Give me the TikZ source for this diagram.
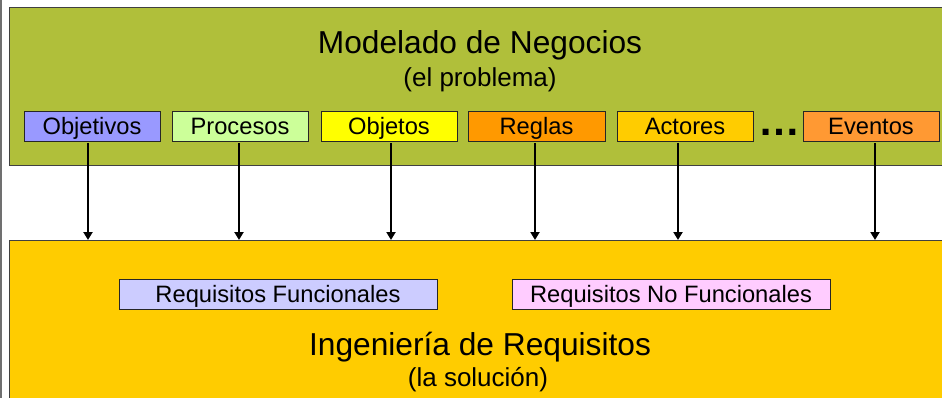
\documentclass[tikz,border=0pt]{standalone}
\usepackage{fontspec}
\setmainfont{Liberation Sans}
\usetikzlibrary{arrows.meta}
\definecolor{modgreen}{RGB}{176,191,58}
\definecolor{ingyellow}{RGB}{255,204,0}
\definecolor{cObjetivos}{RGB}{153,153,255}
\definecolor{cProcesos}{RGB}{204,255,153}
\definecolor{cObjetos}{RGB}{255,255,0}
\definecolor{cReglas}{RGB}{255,153,0}
\definecolor{cActores}{RGB}{255,204,0}
\definecolor{cEventos}{RGB}{255,153,51}
\definecolor{cRF}{RGB}{204,204,255}
\definecolor{cRNF}{RGB}{255,204,255}
\definecolor{edgegray}{RGB}{64,64,64}
\definecolor{framegray}{RGB}{112,112,112}
\tikzset{
  bigbox/.style={draw=edgegray, line width=1.2pt, anchor=north west, inner sep=0pt},
  lblbox/.style={draw=black!85, line width=0.9pt, minimum width=136pt, minimum height=30pt,
    inner sep=0pt, text height=17pt, text depth=0pt, font=\fontsize{23.7}{28}\selectfont},
  reqbox/.style={lblbox, minimum width=318pt},
  title/.style={anchor=base, inner sep=0pt, font=\fontsize{31.7}{36}\selectfont},
  subtitle/.style={anchor=base, inner sep=0pt, font=\fontsize{26}{30}\selectfont},
  flow/.style={line width=2.5pt, -{Triangle[width=9pt,length=8pt]}}
}
\begin{document}
\begin{tikzpicture}[x=1pt,y=-1pt]
\useasboundingbox (0,0) rectangle (942,397);
\clip (0,0) rectangle (942,397);
\fill[white] (0,0) rectangle (942,397);
\draw[framegray, line width=2pt] (1,-2) coordinate (ftop) -- (1,400) coordinate (fbot);
% big boxes
\node[bigbox, fill=modgreen, minimum width=945pt, minimum height=158.5pt] (model) at (9,6.5) {};
\node[bigbox, fill=ingyellow, minimum width=945pt, minimum height=165pt] (ing) at (9,240) {};
% titles
\node[title] (mtitle) at (480,53) {Modelado de Negocios};
\node[subtitle] (msub) at (480,86.5) {(el problema)};
\node[title] (ititle) at (480,355) {Ingeniería de Requisitos};
\node[subtitle] (isub) at (478,386) {(la solución)};
% small boxes
\node[lblbox, fill=cObjetivos] (objetivos) at (92,126) {Objetivos};
\node[lblbox, fill=cProcesos] (procesos) at (240,126) {Procesos};
\node[lblbox, fill=cObjetos] (objetos) at (389,126) {Objetos};
\node[lblbox, fill=cReglas, minimum width=137pt] (reglas) at (536.5,126) {Reglas};
\node[lblbox, fill=cActores] (actores) at (685,126) {Actores};
\node[lblbox, fill=cEventos] (eventos) at (871,126) {Eventos};
\node[anchor=base, inner sep=0pt, font=\bfseries\fontsize{42}{42}\selectfont] (dots) at (779,135.5) {…};
% requirement boxes
\node[reqbox, fill=cRF] (rf) at (278,294) {Requisitos Funcionales};
\node[reqbox, fill=cRNF] (rnf) at (671,294) {Requisitos No Funcionales};
% arrows
\foreach \n/\dx in {objetivos/-4, procesos/-1, objetos/2, reglas/-1.5, actores/-7, eventos/4}{
  \draw[flow] ([xshift=\dx pt]\n.south) ++(0,1.5) -- ([xshift=\dx pt]\n.south |- ing.north);
}
\end{tikzpicture}
\end{document}
